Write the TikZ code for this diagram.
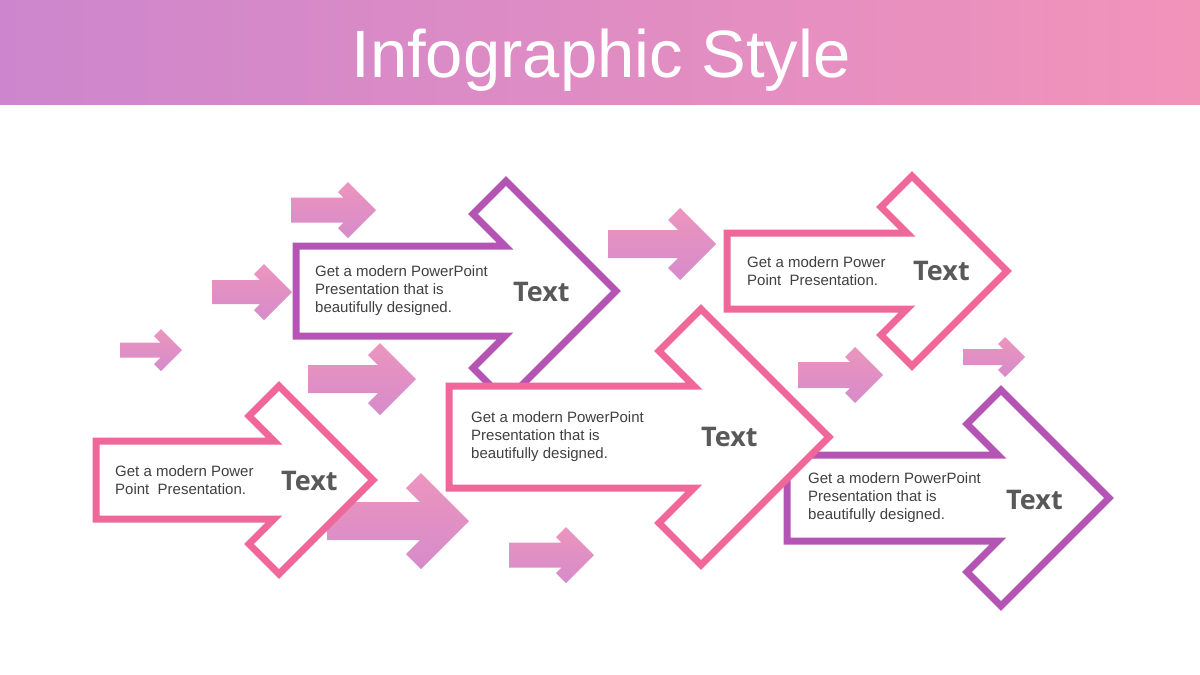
\documentclass[tikz,border=0pt]{standalone}
\usepackage{fontspec}
\setmainfont{Liberation Sans}
\newfontfamily\labelfont{Open Sans}
\usetikzlibrary{positioning}
\definecolor{hdrL}{HTML}{CD86CD}
\definecolor{hdrR}{HTML}{F293BA}
\definecolor{purp}{HTML}{B455B6}
\definecolor{rose}{HTML}{F0689A}
\definecolor{smTop}{HTML}{EC95BE}
\definecolor{smBot}{HTML}{D68BCA}
\definecolor{bodytxt}{HTML}{404040}
\definecolor{lbltxt}{HTML}{595959}
% arrow outline: left x, tip x, axis y, head half-height, body half-height, wing
\newcommand{\arrowpath}[6]{(#1,#3-#5) -- (#2-2*#6-#5,#3-#5) -- (#2-#4-#6,#3-#4+#6)
  -- (#2-#4,#3-#4) -- (#2,#3) -- (#2-#4,#3+#4) -- (#2-#4-#6,#3+#4-#6)
  -- (#2-2*#6-#5,#3+#5) -- (#1,#3+#5) -- cycle}
\tikzset{
  outline/.style={line width=7pt, line join=miter, fill=white},
  outP/.style={outline, draw=purp},
  outR/.style={outline, draw=rose},
  small/.style={top color=smTop, bottom color=smBot},
  desc/.style={anchor=west, align=left, inner sep=0pt, text=bodytxt,
               font=\fontsize{15}{18}\selectfont},
  lbl/.style={anchor=west, inner sep=0pt, text=lbltxt,
              font=\labelfont\bfseries\fontsize{27}{30}\selectfont},
}
\begin{document}
\begin{tikzpicture}[x=1pt, y=-1pt]
  \useasboundingbox (0,0) rectangle (1200,675);
  \fill[white] (0,0) rectangle (1200,675);
  \shade[left color=hdrL, right color=hdrR] (0,0) rectangle (1200,104);
  \node[anchor=base, text=white, font=\fontsize{67}{80}\selectfont] (title) at (601,77) {Infographic Style};

  % small filled arrows
  \path[small] \arrowpath{291}{376}{210}{28}{12.5}{10};
  \path[small] \arrowpath{212}{292}{292}{28}{12}{10};
  \path[small] \arrowpath{120}{182}{350}{21}{7.5}{7};
  \path[small] \arrowpath{308}{416}{379}{36}{14}{12};
  \path[small] \arrowpath{327}{469}{521}{48}{19}{15};
  \path[small] \arrowpath{509}{594}{555}{28}{12.5}{10};
  \path[small] \arrowpath{608}{716}{244}{36}{14}{12};
  \path[small] \arrowpath{798}{883}{375}{28}{13}{10};
  \path[small] \arrowpath{963}{1025}{357}{20}{8}{7};

  % outlined arrows
  \draw[outP] \arrowpath{296}{616}{291}{110}{45}{33};
  \node[desc] (d1) at (315,291) {Get a modern PowerPoint\\Presentation that is\\beautifully designed.};
  \node[lbl] (t1) at (513,292) {Text};

  \draw[outP] \arrowpath{787}{1109}{498}{108}{43}{34};
  \node[desc] (d5) at (808,498) {Get a modern PowerPoint\\Presentation that is\\beautifully designed.};
  \node[lbl] (t5) at (1006,500) {Text};

  \draw[outR] \arrowpath{727}{1007}{271}{95}{38}{31};
  \node[desc] (d3) at (747,271) {Get a modern Power\\Point\ \ Presentation.};
  \node[lbl] (t3) at (913,271) {Text};

  \draw[outR] \arrowpath{96}{373}{480}{94}{39}{30};
  \node[desc] (d2) at (115,480) {Get a modern Power\\Point\ \ Presentation.};
  \node[lbl] (t2) at (281,481) {Text};

  \draw[outR] \arrowpath{449}{829}{437}{128}{51}{42};
  \node[desc] (d4) at (471,437) {Get a modern PowerPoint\\Presentation that is\\beautifully designed.};
  \node[lbl] (t4) at (701,437) {Text};
\end{tikzpicture}
\end{document}
